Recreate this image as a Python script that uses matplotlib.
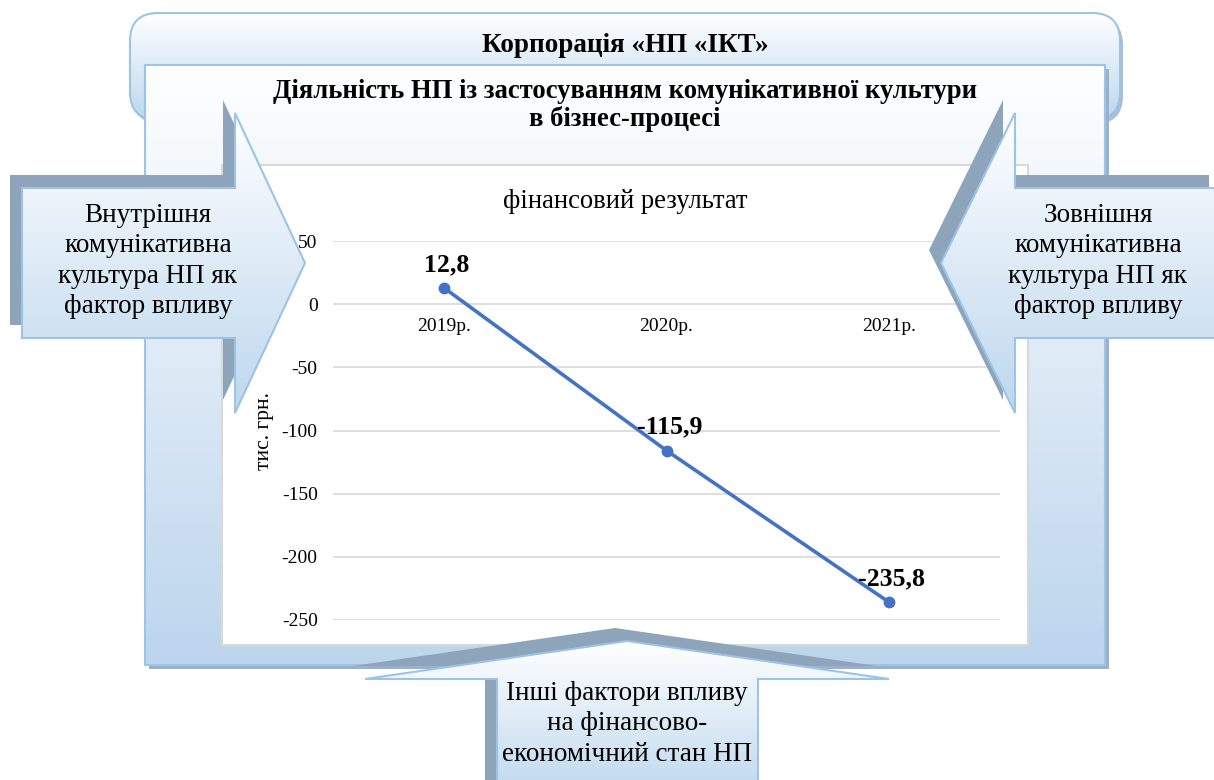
import matplotlib
matplotlib.use('Agg')
import matplotlib.pyplot as plt
import numpy as np
from matplotlib.patches import Polygon, FancyBboxPatch, Rectangle
from matplotlib.colors import to_rgb

# ---------------- data ----------------
years = ['2019р.', '2020р.', '2021р.']
values = [12.8, -115.9, -235.8]
yticks = [50, 0, -50, -100, -150, -200, -250]

header = 'Корпорація «НП «ІКТ»'
subtitle = 'Діяльність НП із застосуванням комунікативної культури\nв бізнес-процесі'
chart_title = 'фінансовий результат'
y_label = 'тис. грн.'
left_text = 'Внутрішня\nкомунікативна\nкультура НП як\nфактор впливу'
right_text = 'Зовнішня\nкомунікативна\nкультура НП як\nфактор впливу'
bottom_text = 'Інші фактори впливу\nна фінансово-\nекономічний стан НП'

# ---------------- styling ----------------
SERIF = ['Liberation Serif', 'DejaVu Serif']
plt.rcParams['font.family'] = SERIF
BORDER = '#9DC3E6'
SHADOW = '#8DA4BB'
LIGHT_TOP = '#FFFFFF'
LIGHT_BOT = '#BDD7EE'
LINE_C = '#4472C4'
GRID_C = '#D9D9D9'

W, H = 1214, 780
fig = plt.figure(figsize=(W / 100, H / 100), dpi=100)


def pix_axes(z):
    ax = fig.add_axes([0, 0, 1, 1], zorder=z)
    ax.set_xlim(0, W)
    ax.set_ylim(H, 0)
    ax.axis('off')
    ax.patch.set_alpha(0)
    return ax


def grad_patch(ax, patch, y0, y1, c0, c1, z, lw=1.5, ec=BORDER):
    patch.set_facecolor('none')
    patch.set_edgecolor(ec)
    patch.set_linewidth(lw)
    patch.set_zorder(z + 0.01)
    ax.add_patch(patch)
    t = np.linspace(0, 1, 256)[:, None]
    a = np.array(to_rgb(c0))
    b = np.array(to_rgb(c1))
    img = (a * (1 - t) + b * t)[:, None, :]
    im = ax.imshow(img, extent=[0, W, y1, y0], origin='upper', aspect='auto',
                   zorder=z, interpolation='bilinear')
    im.set_clip_path(patch)
    ax.set_xlim(0, W)
    ax.set_ylim(H, 0)


# ---------------- background layer ----------------
bg = pix_axes(0)

# banner shadow + banner
bg.add_patch(FancyBboxPatch((133, 17), 990, 107, boxstyle='round,pad=0,rounding_size=28',
                            facecolor='#A7BFD6', edgecolor='none', zorder=0.5))
grad_patch(bg, FancyBboxPatch((130, 13), 990, 107, boxstyle='round,pad=0,rounding_size=28'),
           13, 120, '#FFFFFF', '#BDD7EE', 1)

# frame shadow + frame
bg.add_patch(Rectangle((149, 69), 960, 600, facecolor='#98B2CA', edgecolor='none', zorder=1.5))
grad_patch(bg, Rectangle((145, 65), 960, 600), 65, 665, '#FFFFFF', '#BCD5ED', 2)

# chart area
bg.add_patch(Rectangle((222, 165), 806, 480, facecolor='white', edgecolor=GRID_C,
                       linewidth=1.5, zorder=3))

bg.text(625, 45, header, ha='center', va='center', fontsize=19.5, fontweight='bold',
        zorder=5)
bg.text(625, 106, subtitle, ha='center', va='center', fontsize=19.2, fontweight='bold',
        linespacing=1.1, zorder=5)
bg.text(625, 201, chart_title, ha='center', va='center', fontsize=19.2, zorder=5)
bg.text(265, 431, y_label, ha='center', va='center', fontsize=15.5, rotation=90, zorder=5)

# ---------------- arrows ----------------
fg_left = pix_axes(0.5)   # below the chart (tick labels drawn over it)
fg = pix_axes(2)          # above the chart


def arrow(axp, pts, text, tx, ty, shadow_off=(-12, -13), z=3):
    pts = np.array(pts, dtype=float)
    sh = pts + np.array(shadow_off)
    axp.add_patch(Polygon(sh, closed=True, facecolor=SHADOW, edgecolor='none', zorder=z))
    ys = pts[:, 1]
    grad_patch(axp, Polygon(pts, closed=True), ys.min(), ys.max(), LIGHT_TOP, LIGHT_BOT, z + 0.1)
    axp.text(tx, ty, text, ha='center', va='center', fontsize=19.5,
             linespacing=1.29, zorder=z + 0.5)


arrow(fg_left, [(22, 188), (235, 188), (235, 113), (305, 263), (235, 413), (235, 338), (22, 338)],
      left_text, 148, 261)
arrow(fg, [(1221, 188), (1015, 188), (1015, 113), (941, 263), (1015, 413), (1015, 338), (1221, 338)],
      right_text, 1098, 261)
arrow(fg, [(497, 800), (497, 679), (365, 679), (627, 641), (889, 679), (758, 679), (758, 800)],
      bottom_text, 627, 724)

# ---------------- chart ----------------
ax = fig.add_axes([333 / W, (H - 620) / H, (1000 - 333) / W, (620 - 241) / H], zorder=1)
ax.patch.set_alpha(0)
x = np.arange(len(years))
ax.spines['bottom'].set_position(('data', 0))
ax.plot(x, values, color=LINE_C, lw=2.6, marker='o', ms=7.5, zorder=3,
        solid_capstyle='round')
ax.set_xlim(-0.5, len(years) - 0.5)
ax.set_ylim(min(yticks), max(yticks))
ax.set_yticks(yticks)
ax.set_yticklabels([f'{v}' for v in yticks], fontsize=14)
ax.set_xticks(x)
ax.set_xticklabels(years, fontsize=14)
for s in ax.spines.values():
    s.set_visible(False)
ax.tick_params(axis='y', length=0, pad=11)
ax.tick_params(axis='x', length=0, pad=10)
ax.grid(axis='y', color=GRID_C, lw=1.2)
ax.set_axisbelow(True)
for xi, v in zip(x, values):
    ax.annotate(f'{v:.1f}'.replace('.', ','), (xi, v), xytext=(2, 17),
                textcoords='offset points', ha='center', va='center',
                fontsize=18.5, fontweight='bold', zorder=4)

fig.savefig('out.png', dpi=100)
